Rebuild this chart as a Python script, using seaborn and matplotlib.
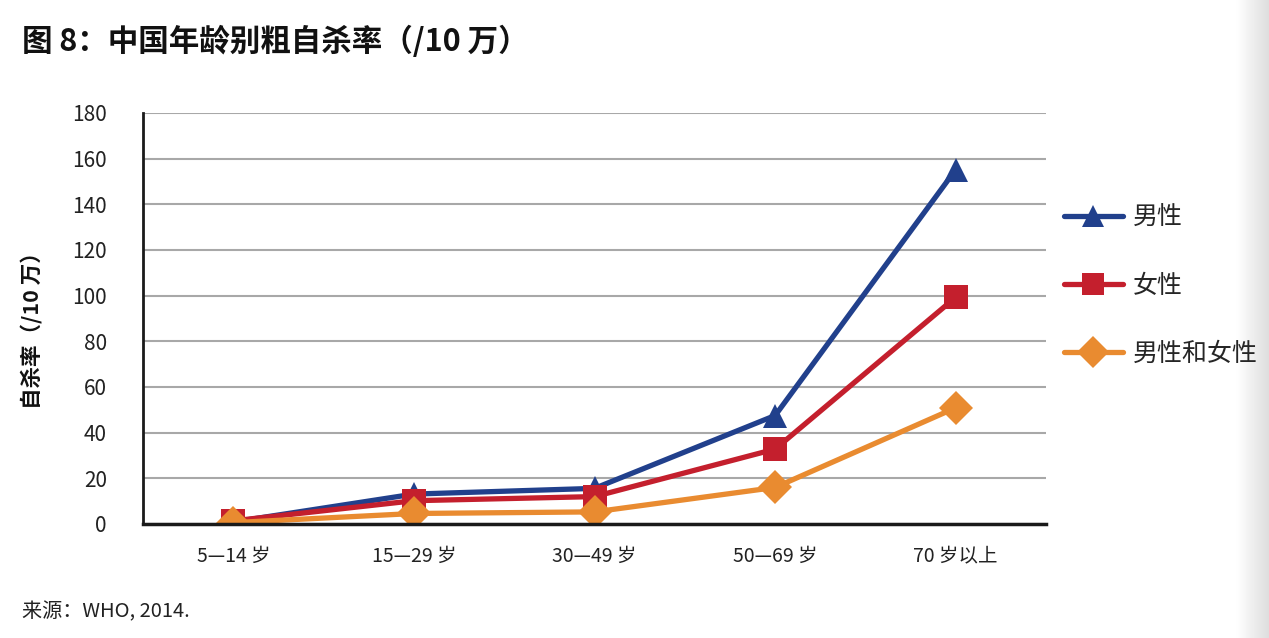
import numpy as np
import pandas as pd
import matplotlib
matplotlib.use("Agg")
import matplotlib.pyplot as plt
import seaborn as sns

age_groups = ["5—14 岁", "15—29 岁", "30—49 岁", "50—69 岁", "70 岁以上"]
series_names = ["男性", "女性", "男性和女性"]
male = [0.9, 13.1, 15.6, 47.5, 155.2]
female = [1.4, 10.2, 12.0, 32.8, 99.3]
both = [0.6, 4.6, 5.3, 16.0, 50.9]
colors = ["#21408C", "#C41F2D", "#E98B30"]
markers = ["^", "s", "D"]

df = pd.DataFrame({
    "age": age_groups * 3,
    "rate": male + female + both,
    "group": [n for n in series_names for _ in age_groups],
})

sns.set_style("white")
plt.rcParams["font.family"] = ["Noto Sans CJK SC", "DejaVu Sans"]

fig = plt.figure(figsize=(12.69, 6.38), dpi=100)
ax = fig.add_axes([0.1127, 0.1787, 0.7116, 0.6442])

sns.lineplot(data=df, x="age", y="rate", hue="group", style="group",
             palette=colors, markers=markers, dashes=False, linewidth=3.8,
             markersize=17, markeredgewidth=0, sort=False, ax=ax, legend=False)

ax.set_ylim(0, 180)
ax.set_xlim(-0.5, 4.5)
ax.set_yticks(range(0, 181, 20))
ax.tick_params(axis="y", length=13, width=2, color="#1a1a1a", labelsize=15,
               pad=13, labelcolor="#222222")
ax.set_xticks(range(len(age_groups)))
ax.set_xticklabels(age_groups)
ax.set_xticks(np.arange(-0.5, 5.0, 1.0), minor=True)
ax.tick_params(axis="x", which="major", length=0, labelsize=14, pad=16,
               labelcolor="#222222")
ax.tick_params(axis="x", which="minor", length=19, width=1.8, color="#1a1a1a")
for lab in ax.get_xticklabels() + ax.get_yticklabels():
    lab.set_fontweight("light")

ax.grid(axis="y", color="#A8A8A8", linewidth=1.5)
ax.set_axisbelow(True)
for s in ["top", "right"]:
    ax.spines[s].set_visible(False)
ax.spines["left"].set_color("#1a1a1a")
ax.spines["left"].set_linewidth(2)
ax.spines["bottom"].set_color("#1a1a1a")
ax.spines["bottom"].set_linewidth(2.5)
ax.set_xlabel("")
ax.set_ylabel("")
fig.text(32 / 1269, 1 - 325 / 638, "自杀率（/10 万）", rotation=90,
         fontsize=15.5, fontweight="bold", ha="center", va="center",
         color="#111111")

# legend
handles = [plt.Line2D([], [], color=c, marker=m, linewidth=3.8, markersize=16,
                      markeredgewidth=0) for c, m in zip(colors, markers)]
fig.legend(handles, series_names, loc="upper left",
           bbox_to_anchor=(1064 / 1269, 1 - 205 / 638), frameon=False,
           borderpad=0, borderaxespad=0,
           fontsize=18, handlelength=2.35, labelspacing=1.67, handletextpad=0.4)

fig.text(22 / 1269, 1 - 42 / 638, "图 8：中国年龄别粗自杀率（/10 万）",
         fontsize=22, fontweight="heavy", va="center", ha="left", color="#111111")
fig.text(22 / 1269, 1 - 612 / 638, "来源：WHO, 2014.", fontsize=14.5,
         fontweight="medium", va="center", ha="left", color="#222222")

# soft shadow on the right edge
grad = fig.add_axes([1236 / 1269, 0, 33 / 1269, 1])
grad.imshow(np.linspace(1.0, 0.87, 64)[None, :], aspect="auto", cmap="gray",
            vmin=0, vmax=1, extent=[0, 1, 0, 1])
grad.axis("off")

fig.savefig("out.png", dpi=100)
